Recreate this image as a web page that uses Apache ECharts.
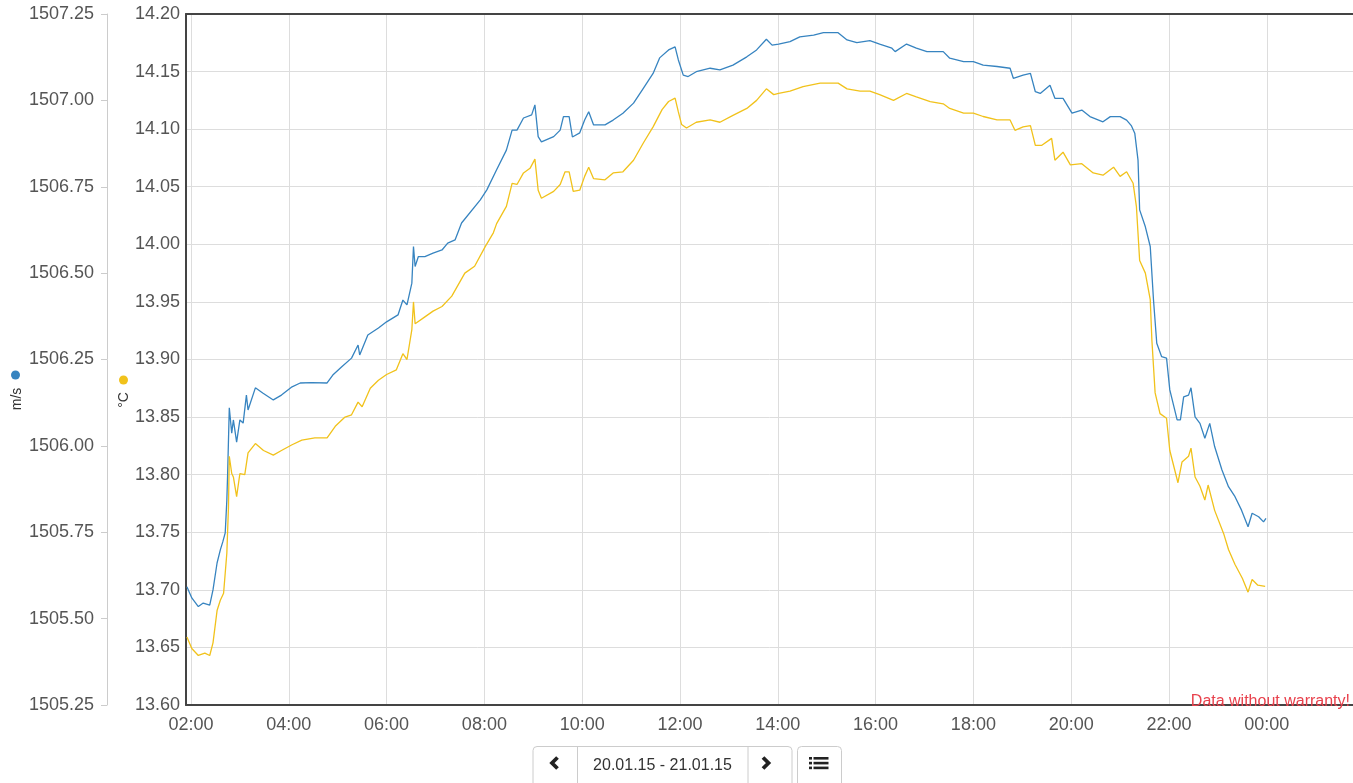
<!DOCTYPE html>
<html>
<head>
<meta charset="utf-8">
<script src="https://cdn.jsdelivr.net/npm/echarts@6/dist/echarts.min.js"></script>
<style>
html,body{margin:0;padding:0;background:#fff;}
#chart{width:1353px;height:783px;}
</style>
</head>
<body>
<div id="chart"></div>
<script>
// ---- data ----
const speedTimes = ["01:55","02:01","02:09","02:15","02:23","02:27","02:32","02:36","02:39","02:42",
"02:44","02:45","02:47","02:50","02:52","02:56","03:00","03:04","03:08","03:10",
"03:19","03:28","03:41","03:51","04:04","04:14","04:28","04:47","04:54","05:05",
"05:17","05:25","05:27","05:37","05:50","06:00","06:14","06:20","06:25","06:31",
"06:33","06:35","06:39","06:47","06:57","07:08","07:15","07:24","07:32","07:55",
"08:03","08:15","08:27","08:34","08:40","08:48","08:58","09:02","09:06","09:10",
"09:25","09:33","09:37","09:44","09:48","09:57","10:03","10:08","10:14","10:28",
"10:38","10:50","11:03","11:15","11:27","11:35","11:46","11:54","11:58","12:04",
"12:10","12:20","12:37","12:49","13:05","13:22","13:34","13:46","13:53","14:01",
"14:15","14:27","14:44","14:56","15:14","15:25","15:37","15:53","16:05","16:20",
"16:24","16:38","16:50","17:03","17:23","17:31","17:48","18:00","18:12","18:29",
"18:45","18:49","19:01","19:10","19:16","19:22","19:34","19:40","19:50","20:01",
"20:13","20:23","20:39","20:48","21:00","21:08","21:14","21:18","21:22","21:24",
"21:31","21:37","21:41","21:45","21:51","21:57","22:01","22:10","22:14","22:18",
"22:24","22:27","22:32","22:38","22:44","22:50","22:56","23:05","23:13","23:21",
"23:29","23:37","23:42","23:50","23:56","23:59"];

const soundSpeed = [1505.592,1505.560,1505.535,1505.545,1505.539,1505.583,1505.661,1505.699,1505.722,1505.748,
1505.843,1505.922,1506.110,1506.037,1506.075,1506.011,1506.075,1506.066,1506.147,1506.104,
1506.168,1506.153,1506.133,1506.147,1506.171,1506.182,1506.183,1506.182,1506.205,1506.229,
1506.254,1506.292,1506.263,1506.321,1506.341,1506.359,1506.379,1506.422,1506.408,1506.471,
1506.577,1506.519,1506.548,1506.548,1506.558,1506.567,1506.587,1506.596,1506.645,1506.712,
1506.741,1506.799,1506.856,1506.914,1506.914,1506.949,1506.958,1506.987,1506.895,1506.880,
1506.895,1506.914,1506.953,1506.953,1506.894,1506.906,1506.943,1506.967,1506.929,1506.929,
1506.943,1506.963,1506.992,1507.035,1507.078,1507.123,1507.146,1507.155,1507.117,1507.073,
1507.069,1507.083,1507.093,1507.088,1507.102,1507.126,1507.146,1507.177,1507.160,1507.163,
1507.170,1507.184,1507.189,1507.196,1507.196,1507.175,1507.167,1507.173,1507.163,1507.151,
1507.141,1507.163,1507.151,1507.141,1507.141,1507.122,1507.112,1507.112,1507.102,1507.098,
1507.093,1507.064,1507.073,1507.078,1507.025,1507.020,1507.044,1507.006,1507.006,1506.963,
1506.972,1506.953,1506.938,1506.953,1506.953,1506.943,1506.926,1506.905,1506.827,1506.683,
1506.634,1506.577,1506.422,1506.297,1506.258,1506.254,1506.162,1506.075,1506.075,1506.142,
1506.147,1506.168,1506.084,1506.065,1506.022,1506.065,1505.998,1505.930,1505.882,1505.853,
1505.814,1505.766,1505.805,1505.795,1505.780,1505.790];

const tempTimes = ["01:55","02:01","02:09","02:17","02:23","02:27","02:32","02:36","02:40","02:44",
"02:46","02:47","02:50","02:52","02:56","03:00","03:06","03:10","03:19","03:29",
"03:41","03:51","04:04","04:16","04:32","04:47","04:57","05:09","05:17","05:25",
"05:30","05:40","05:50","06:00","06:12","06:20","06:25","06:31","06:33","06:35",
"06:47","06:57","07:08","07:20","07:36","07:48","08:01","08:11","08:15","08:27",
"08:34","08:40","08:48","08:56","09:02","09:06","09:10","09:25","09:33","09:39",
"09:44","09:49","09:57","10:03","10:08","10:14","10:28","10:38","10:50","11:03",
"11:15","11:27","11:38","11:46","11:54","11:58","12:02","12:08","12:20","12:37",
"12:49","13:05","13:22","13:34","13:46","13:55","14:01","14:15","14:31","14:52",
"15:14","15:25","15:41","15:53","16:05","16:22","16:38","16:50","17:07","17:23",
"17:31","17:48","18:00","18:12","18:29","18:45","18:51","19:01","19:10","19:16",
"19:24","19:36","19:40","19:50","19:59","20:13","20:27","20:39","20:52","21:00",
"21:08","21:16","21:20","21:24","21:31","21:37","21:39","21:43","21:49","21:57",
"22:01","22:11","22:16","22:24","22:27","22:32","22:38","22:44","22:48","22:56",
"23:07","23:13","23:21","23:30","23:37","23:42","23:49","23:58"];

const temperature = [13.659,13.649,13.643,13.645,13.643,13.654,13.682,13.691,13.697,13.732,
13.772,13.816,13.801,13.798,13.781,13.801,13.800,13.819,13.827,13.821,
13.817,13.821,13.826,13.830,13.832,13.832,13.842,13.850,13.852,13.863,
13.859,13.875,13.882,13.887,13.891,13.905,13.900,13.926,13.950,13.931,
13.937,13.942,13.946,13.955,13.975,13.981,13.998,14.010,14.018,14.033,
14.053,14.052,14.062,14.066,14.074,14.047,14.040,14.046,14.052,14.063,
14.063,14.046,14.047,14.059,14.067,14.057,14.056,14.062,14.063,14.073,
14.088,14.102,14.117,14.124,14.127,14.115,14.104,14.101,14.106,14.108,
14.106,14.112,14.118,14.125,14.135,14.130,14.131,14.133,14.137,14.140,
14.140,14.135,14.133,14.133,14.130,14.125,14.131,14.128,14.124,14.122,
14.118,14.114,14.114,14.111,14.108,14.108,14.099,14.102,14.103,14.086,
14.086,14.092,14.073,14.080,14.069,14.070,14.062,14.060,14.067,14.059,
14.063,14.053,14.033,13.986,13.975,13.952,13.917,13.871,13.853,13.849,
13.821,13.793,13.811,13.816,13.823,13.798,13.790,13.778,13.791,13.769,
13.749,13.735,13.722,13.710,13.698,13.709,13.704,13.703];

const hourTicks = [2,4,6,8,10,12,14,16,18,20,22,24];
const speedUnit = "m/s";
const tempUnit = "°C";
const dateRange = "20.01.15 - 21.01.15";
const disclaimer = "Data without warranty!";

// ---- build ----
function toHours(s){ const p = s.split(":"); return (+p[0]) + (+p[1]) / 60; }
function zip(ts, vs){ return ts.map((t, i) => [toHours(t), vs[i]]); }
function fmtHour(v){ const h = Math.round(v) % 24; return (h < 10 ? "0" : "") + h + ":00"; }

const BLUE = "#3784c0", YELLOW = "#f1c21b";
const FONT = "'Liberation Sans', Arial, sans-serif";
const X_MIN = 1.898, X_MAX = 25.763;

const chart = echarts.init(document.getElementById("chart"), null, {renderer: "canvas"});
chart.setOption({
  animation: false,
  backgroundColor: "#fff",
  textStyle: {fontFamily: FONT},
  grid: {left: 186, right: 0, top: 14, bottom: 78, containLabel: false},
  xAxis: [{
    type: "value", min: X_MIN, max: X_MAX,
    axisLine: {show: true, lineStyle: {color: "#444", width: 2}},
    axisTick: {show: false, customValues: hourTicks},
    axisLabel: {customValues: hourTicks, formatter: fmtHour, color: "#555", fontSize: 18, margin: 11, fontFamily: FONT},
    splitLine: {show: true, lineStyle: {color: "#ddd", width: 1}}
  }, {
    type: "value", min: X_MIN, max: X_MAX, position: "top",
    axisLine: {show: true, lineStyle: {color: "#444", width: 2}},
    axisTick: {show: false}, axisLabel: {show: false}, splitLine: {show: false}
  }],
  yAxis: [{
    type: "value", position: "left", min: 13.6, max: 14.2, interval: 0.05,
    axisLine: {show: true, lineStyle: {color: "#444", width: 2}},
    axisTick: {show: false},
    axisLabel: {formatter: v => v.toFixed(2), color: "#555", fontSize: 18, margin: 6, padding: [4, 0, 0, 0], fontFamily: FONT},
    splitLine: {show: true, lineStyle: {color: "#ddd", width: 1}}
  }, {
    type: "value", position: "left", offset: 79, min: 1505.25, max: 1507.25, interval: 0.25,
    axisLine: {show: true, lineStyle: {color: "#ccc", width: 1}},
    axisTick: {show: true, length: 6, lineStyle: {color: "#ccc"}},
    axisLabel: {formatter: v => v.toFixed(2), color: "#555", fontSize: 18, margin: 13, padding: [4, 0, 0, 0], fontFamily: FONT},
    splitLine: {show: false}
  }],
  series: [{
    name: speedUnit, type: "line", yAxisIndex: 1, xAxisIndex: 0,
    data: zip(speedTimes, soundSpeed), showSymbol: false,
    lineStyle: {color: BLUE, width: 1.3}, itemStyle: {color: BLUE}
  }, {
    name: tempUnit, type: "line", yAxisIndex: 0, xAxisIndex: 0,
    data: zip(tempTimes, temperature), showSymbol: false,
    lineStyle: {color: YELLOW, width: 1.3}, itemStyle: {color: YELLOW}
  }],
  graphic: [
    {type: "circle", shape: {cx: 15.5, cy: 375, r: 4.5}, style: {fill: BLUE}},
    {type: "text", x: 17, y: 399, rotation: Math.PI / 2,
     style: {text: speedUnit, fill: "#333", font: "14px " + FONT, align: "center", verticalAlign: "middle"}},
    {type: "circle", shape: {cx: 123.5, cy: 380, r: 4.5}, style: {fill: YELLOW}},
    {type: "text", x: 124, y: 400, rotation: Math.PI / 2,
     style: {text: tempUnit, fill: "#333", font: "14px " + FONT, align: "center", verticalAlign: "middle"}},
    {type: "text", x: 1350, y: 710, z: 100,
     style: {text: disclaimer, fill: "#e8414c", font: "16px " + FONT, align: "right", verticalAlign: "bottom"}},
    // navigation buttons
    {type: "rect", shape: {x: 533, y: 746.5, width: 259, height: 45, r: 4}, style: {fill: "#fff", stroke: "#ccc", lineWidth: 1}},
    {type: "line", shape: {x1: 577.5, y1: 746.5, x2: 577.5, y2: 790}, style: {stroke: "#ccc", lineWidth: 1}},
    {type: "line", shape: {x1: 748, y1: 746.5, x2: 748, y2: 790}, style: {stroke: "#ccc", lineWidth: 1}},
    {type: "rect", shape: {x: 797.5, y: 746.5, width: 44, height: 45, r: 4}, style: {fill: "#fff", stroke: "#ccc", lineWidth: 1}},
    {type: "polyline", shape: {points: [[557.5, 757.5], [552, 763], [557.5, 768.5]]}, style: {stroke: "#222", lineWidth: 3.8, fill: null}},
    {type: "polyline", shape: {points: [[763, 757.5], [768.5, 763], [763, 768.5]]}, style: {stroke: "#222", lineWidth: 3.8, fill: null}},
    {type: "text", x: 662.5, y: 765.5,
     style: {text: dateRange, fill: "#333", font: "16px " + FONT, align: "center", verticalAlign: "middle"}},
    {type: "rect", shape: {x: 809, y: 757, width: 3, height: 2.6}, style: {fill: "#222"}},
    {type: "rect", shape: {x: 813.5, y: 757, width: 15, height: 2.6}, style: {fill: "#222"}},
    {type: "rect", shape: {x: 809, y: 761.8, width: 3, height: 2.6}, style: {fill: "#222"}},
    {type: "rect", shape: {x: 813.5, y: 761.8, width: 15, height: 2.6}, style: {fill: "#222"}},
    {type: "rect", shape: {x: 809, y: 766.6, width: 3, height: 2.6}, style: {fill: "#222"}},
    {type: "rect", shape: {x: 813.5, y: 766.6, width: 15, height: 2.6}, style: {fill: "#222"}}
  ]
});
</script>
</body>
</html>
